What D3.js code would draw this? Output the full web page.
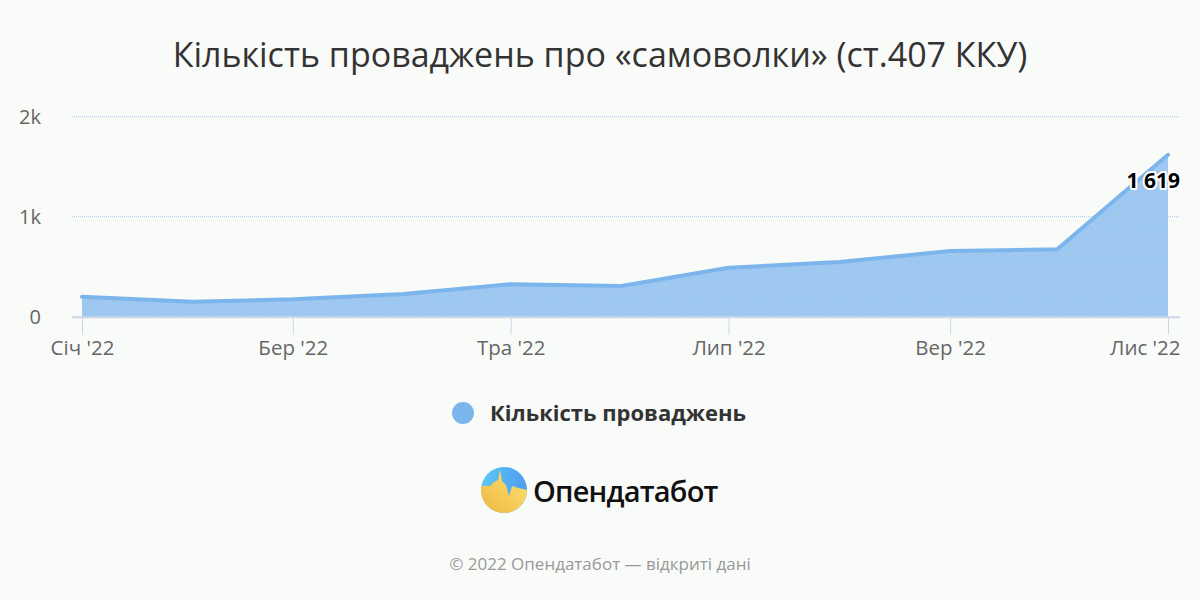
<!DOCTYPE html>
<html><head><meta charset="utf-8">
<script src="https://cdn.jsdelivr.net/npm/d3@7"></script>
<style>
html,body{margin:0;padding:0;background:#f9fbf9;}
svg{display:block;font-family:"Open Sans","Noto Sans",sans-serif;}
</style></head>
<body>
<svg id="c" width="1200" height="600"></svg>
<script>
const months = ["2022-01-01","2022-02-01","2022-03-01","2022-04-01","2022-05-01","2022-06-01","2022-07-01","2022-08-01","2022-09-01","2022-10-01","2022-11-01"];
const values = [200,150,174,227,324,307,490,547,657,674,1619];
const monthNames = ["Січ","Лют","Бер","Кві","Тра","Чер","Лип","Сер","Вер","Жов","Лис","Гру"];
const yTicks = [0,1000,2000];
const yTickLabels = ["0","1k","2k"];
const seriesName = "Кількість проваджень";
const title = "Кількість проваджень про «самоволки» (ст.407 ККУ)";

const parse = d3.timeParse("%Y-%m-%d");
const data = months.map((m,i)=>({date:parse(m), value:values[i]}));

const svg = d3.select("#c");
svg.append("rect").attr("width",1200).attr("height",600).attr("fill","#f9fbf9");

const x = d3.scaleTime().domain(d3.extent(data,d=>d.date)).range([82,1168]);
const y = d3.scaleLinear().domain([0,2000]).range([316.7,116.7]);

// title
svg.append("text").attr("x",600).attr("y",67).attr("text-anchor","middle")
  .attr("font-size",34).attr("fill","#333").text(title);

// grid
svg.append("g").selectAll("line").data(yTicks.filter(d=>d>0)).join("line")
  .attr("x1",72).attr("x2",1180).attr("y1",d=>y(d)).attr("y2",d=>y(d))
  .attr("stroke","#a9c8e6").attr("stroke-width",1).attr("stroke-dasharray","1,1");

// y labels
svg.append("g").selectAll("text").data(yTicks).join("text")
  .attr("x",41).attr("y",d=>y(d)+7).attr("text-anchor","end")
  .attr("font-size",20).attr("fill","#666").text((d,i)=>yTickLabels[i]);

// pattern
const defs = svg.append("defs");
const pat = defs.append("pattern").attr("id","dots").attr("patternUnits","userSpaceOnUse").attr("width",11).attr("height",9);
pat.append("rect").attr("width",11).attr("height",9).attr("fill","#9dc8f2");
pat.append("rect").attr("x",2).attr("y",3).attr("width",1).attr("height",1).attr("fill","#d9a77a").attr("opacity",0.8);
pat.append("rect").attr("x",8).attr("y",7).attr("width",1).attr("height",1).attr("fill","#d9a77a").attr("opacity",0.6);

const curve = d3.curveLinear;
const area = d3.area().x(d=>x(d.date)).y0(y(0)).y1(d=>y(d.value)).curve(curve);
const line = d3.line().x(d=>x(d.date)).y(d=>y(d.value)).curve(curve);

svg.append("path").datum(data).attr("d",area).attr("fill","url(#dots)");
svg.append("path").datum(data).attr("d",line).attr("fill","none")
  .attr("stroke","#7cb5ec").attr("stroke-width",4).attr("stroke-linejoin","round").attr("stroke-linecap","round");

// x axis
const tickDates = data.filter((d,i)=>i%2===0).map(d=>d.date);
const xAxis = d3.axisBottom(x)
  .tickValues(tickDates)
  .tickSize(18).tickPadding(2)
  .tickFormat(d=>monthNames[d.getMonth()]+" '"+d3.timeFormat("%y")(d));
const gx = svg.append("g").attr("transform",`translate(0,${y(0)})`).call(xAxis);
gx.select(".domain").attr("d","M72,0.5H1180").attr("stroke","#ccd6eb").attr("stroke-width",2);
gx.selectAll(".tick line").attr("stroke","#ccd6eb").attr("stroke-width",1);
gx.selectAll(".tick text").attr("font-size",20.5).attr("fill","#666")
  .attr("font-family","'Open Sans','Noto Sans',sans-serif").attr("y",38).attr("dy",0);
gx.selectAll(".tick").filter((d,i,n)=>i===n.length-1).select("text")
  .attr("text-anchor","end").attr("x",12);

// data label
const last = data[data.length-1];
svg.append("text").attr("x",x(last.date)+12).attr("y",y(last.value)+33)
  .attr("text-anchor","end").attr("font-size",21).attr("font-weight","bold")
  .attr("stroke","#fff").attr("stroke-width",4).attr("paint-order","stroke").attr("stroke-linejoin","round")
  .attr("fill","#000").text(d3.format(",")(last.value).replace(","," "));

// legend
svg.append("circle").attr("cx",463).attr("cy",413).attr("r",11).attr("fill","#7cb5ec");
svg.append("text").attr("x",490).attr("y",421).attr("font-size",22).attr("font-weight","bold")
  .attr("fill","#333").text(seriesName);

// logo
const lg = defs.append("linearGradient").attr("id","lgTop").attr("x1",0).attr("x2",1).attr("y1",0).attr("y2",0);
lg.append("stop").attr("offset","0").attr("stop-color","#5ec8f5");
lg.append("stop").attr("offset","1").attr("stop-color","#4c9cf0");
const lg2 = defs.append("linearGradient").attr("id","lgBot").attr("x1",0).attr("x2",1).attr("y1",1).attr("y2",0);
lg2.append("stop").attr("offset","0").attr("stop-color","#efb540");
lg2.append("stop").attr("offset","1").attr("stop-color","#fde575");
defs.append("clipPath").attr("id","lc").append("circle").attr("cx",504).attr("cy",490).attr("r",23);
const logo = svg.append("g").attr("clip-path","url(#lc)");
logo.append("rect").attr("x",480).attr("y",466).attr("width",48).attr("height",48).attr("fill","url(#lgTop)");
logo.append("path").attr("d","M480,486 L490,486 L494,482 L498,480 L500,470 L502,481 L506,485 L509,496 L512,486 L518,488 L528,490 L528,514 L480,514 Z").attr("fill","url(#lgBot)");
svg.append("text").attr("x",533).attr("y",502).attr("font-size",29).attr("font-weight",600)
  .attr("fill","#111").attr("letter-spacing","-0.8").text("Опендатабот");

// footer
svg.append("text").attr("x",600).attr("y",570).attr("text-anchor","middle")
  .attr("font-size",17).attr("fill","#999").text("© 2022 Опендатабот — відкриті дані");
</script>
</body></html>
